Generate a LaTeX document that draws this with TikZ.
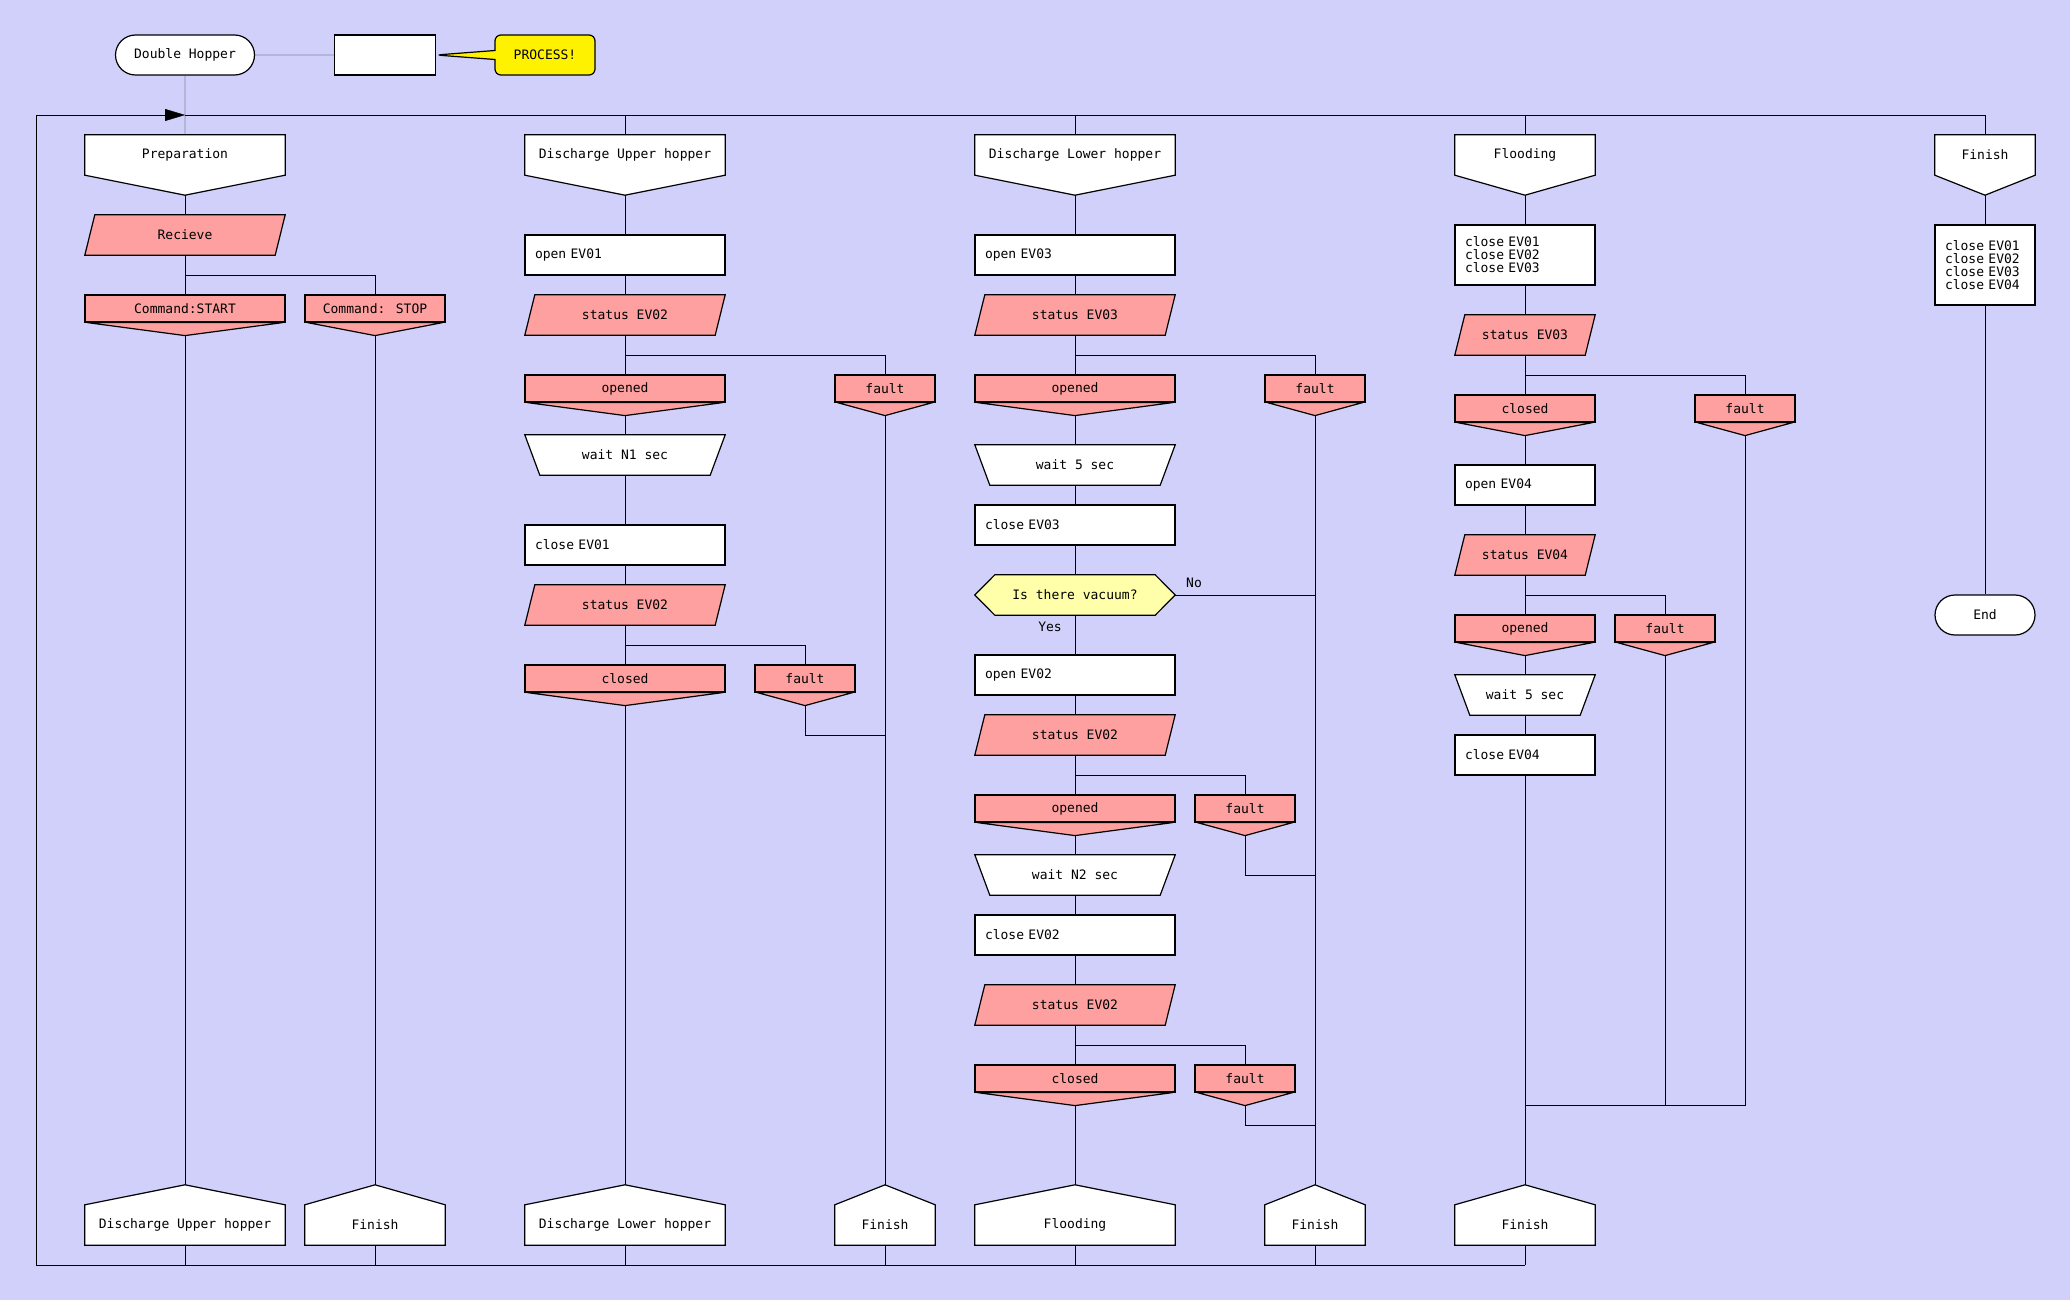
\documentclass[tikz,border=0pt]{standalone}
\usepackage{fontspec}
\newfontfamily\drakonfont{DejaVu Sans Mono}
\usetikzlibrary{arrows.meta,backgrounds,shapes.misc,shapes.callouts}
\definecolor{paper}{RGB}{208,208,250}
\definecolor{rose}{RGB}{255,160,160}
\definecolor{lemon}{RGB}{255,255,170}
\tikzset{
  skin/.style={fill=#1, draw=black, line width=1.2pt, miter limit=2},
  txt/.style={font=\drakonfont\fontsize{13}{13}\selectfont, inner sep=0pt},
  headline/.style={txt, minimum width=#1, minimum height=40pt,
    append after command={\pgfextra{\filldraw[skin=white]
      (\tikzlastnode.north west) -- (\tikzlastnode.north east) -- (\tikzlastnode.south east)
      -- ([yshift=-20pt]\tikzlastnode.south) -- (\tikzlastnode.south west) -- cycle;}}},
  address/.style={txt, minimum width=#1, minimum height=40pt,
    append after command={\pgfextra{\filldraw[skin=white]
      (\tikzlastnode.south west) -- (\tikzlastnode.south east) -- (\tikzlastnode.north east)
      -- ([yshift=20pt]\tikzlastnode.north) -- (\tikzlastnode.north west) -- cycle;}}},
  case/.style={txt, skin=rose, minimum width=#1, minimum height=27pt,
    append after command={\pgfextra{\filldraw[skin=rose]
      ([xshift=3pt]\tikzlastnode.south west) -- ([yshift=-13pt]\tikzlastnode.south)
      -- ([xshift=-3pt]\tikzlastnode.south east) -- cycle;}}},
  action/.style={txt, skin=white, text width=#1, minimum width=#1+20pt, minimum height=40pt, align=left},
  inout/.style={txt, minimum width=#1, minimum height=40pt,
    append after command={\pgfextra{\filldraw[skin=rose]
      ([xshift=10pt]\tikzlastnode.north west) -- (\tikzlastnode.north east)
      -- ([xshift=-10pt]\tikzlastnode.south east) -- (\tikzlastnode.south west) -- cycle;}}},
  pause/.style={txt, minimum width=#1, minimum height=40pt,
    append after command={\pgfextra{\filldraw[skin=white]
      (\tikzlastnode.north west) -- (\tikzlastnode.north east)
      -- ([xshift=-15pt]\tikzlastnode.south east) -- ([xshift=15pt]\tikzlastnode.south west) -- cycle;}}},
  query/.style={txt, minimum width=#1, minimum height=40pt,
    append after command={\pgfextra{\filldraw[skin=lemon]
      (\tikzlastnode.west) -- ([xshift=20pt]\tikzlastnode.north west) -- ([xshift=-20pt]\tikzlastnode.north east)
      -- (\tikzlastnode.east) -- ([xshift=-20pt]\tikzlastnode.south east) -- ([xshift=20pt]\tikzlastnode.south west) -- cycle;}}},
  terminal/.style={txt, skin=white, rounded rectangle, minimum width=#1, minimum height=40pt},
  link/.style={line width=1pt},
}
\begin{document}
\begin{tikzpicture}[x=1pt,y=-1pt]
\begin{scope}[on background layer]
\fill[paper] (0,0) rectangle (2070,1300);
\end{scope}
\useasboundingbox (0,0) rectangle (2070,1300);
\node[terminal=139pt] (title) at (185,55) {Double Hopper};
\node[txt, skin=white, minimum width=101pt, minimum height=40pt] (icon) at (385,55) {};
\node[txt, rectangle callout, fill=yellow, draw=black, line width=1.2pt, rounded corners=6pt,
      minimum width=100pt, minimum height=40pt, callout pointer width=9pt,
      callout absolute pointer={(icon.east)}] (shout) at (545,55) {PROCESS!};
\coordinate (topL) at (36,115);
\coordinate (entry) at (185,115);
\coordinate (topR) at (1985,115);
\coordinate (botL) at (36,1265);
\coordinate (botR) at (1525,1265);
% Preparation
\node[headline=200pt] (prep) at (185,155) {Preparation};
\node[inout=200pt] (recv) at (185,235) {Recieve};
\coordinate (brA) at (185,275);
\node[case=200pt] (cstart) at (185,308.5) {Command:START};
\node[case=140pt] (cstop) at (375,308.5) {Command: STOP};
\node[address=200pt] (adr1) at (185,1225) {Discharge Upper hopper};
\node[address=140pt] (adr2) at (375,1225) {Finish};
% Discharge Upper hopper
\node[headline=200pt] (dup) at (625,155) {Discharge Upper hopper};
\node[action=180pt] (op1) at (625,255) {open EV01};
\node[inout=200pt] (st1) at (625,315) {status EV02};
\coordinate (brB) at (625,355);
\node[case=200pt] (opd1) at (625,388.5) {opened};
\node[case=100pt] (flt1) at (885,388.5) {fault};
\node[pause=200pt] (wt1) at (625,455) {wait N1 sec};
\node[action=180pt] (cl1) at (625,545) {close EV01};
\node[inout=200pt] (st2) at (625,605) {status EV02};
\coordinate (brC) at (625,645);
\node[case=200pt] (cls1) at (625,678.5) {closed};
\node[case=100pt] (flt2) at (805,678.5) {fault};
\coordinate (jnB) at (885,735);
\node[address=200pt] (adr3) at (625,1225) {Discharge Lower hopper};
\node[address=100pt] (adr4) at (885,1225) {Finish};
% Discharge Lower hopper
\node[headline=200pt] (dlo) at (1075,155) {Discharge Lower hopper};
\node[action=180pt] (op3) at (1075,255) {open EV03};
\node[inout=200pt] (st3) at (1075,315) {status EV03};
\coordinate (brD) at (1075,355);
\node[case=200pt] (opd3) at (1075,388.5) {opened};
\node[case=100pt] (flt3) at (1315,388.5) {fault};
\node[pause=200pt] (wt3) at (1075,465) {wait 5 sec};
\node[action=180pt] (cl3) at (1075,525) {close EV03};
\node[query=200pt] (vac) at (1075,595) {Is there vacuum?};
\node[txt] (no) at (1194,583) {No};
\node[txt] (yes) at (1050,627) {Yes};
\coordinate (jnNo) at (1315,595);
\node[action=180pt] (op2) at (1075,675) {open EV02};
\node[inout=200pt] (st4) at (1075,735) {status EV02};
\coordinate (brE) at (1075,775);
\node[case=200pt] (opd4) at (1075,808.5) {opened};
\node[case=100pt] (flt4) at (1245,808.5) {fault};
\coordinate (jnE) at (1315,875);
\node[pause=200pt] (wt4) at (1075,875) {wait N2 sec};
\node[action=180pt] (cl4) at (1075,935) {close EV02};
\node[inout=200pt] (st5) at (1075,1005) {status EV02};
\coordinate (brF) at (1075,1045);
\node[case=200pt] (cls5) at (1075,1078.5) {closed};
\node[case=100pt] (flt5) at (1245,1078.5) {fault};
\coordinate (jnF) at (1315,1125);
\node[address=200pt] (adr5) at (1075,1225) {Flooding};
\node[address=100pt] (adr6) at (1315,1225) {Finish};
% Flooding
\node[headline=140pt] (fld) at (1525,155) {Flooding};
\node[action=120pt, minimum height=60pt] (cl6) at (1525,255) {close EV01\\close EV02\\close EV03};
\node[inout=140pt] (st6) at (1525,335) {status EV03};
\coordinate (brG) at (1525,375);
\node[case=140pt] (cls6) at (1525,408.5) {closed};
\node[case=100pt] (flt6) at (1745,408.5) {fault};
\node[action=120pt] (op6) at (1525,485) {open EV04};
\node[inout=140pt] (st7) at (1525,555) {status EV04};
\coordinate (brH) at (1525,595);
\node[case=140pt] (opd7) at (1525,628.5) {opened};
\node[case=100pt] (flt7) at (1665,628.5) {fault};
\node[pause=140pt] (wt7) at (1525,695) {wait 5 sec};
\node[action=120pt] (cl7) at (1525,755) {close EV04};
\coordinate (jnG) at (1525,1105);
\node[address=140pt] (adr7) at (1525,1225) {Finish};
% Finish
\node[headline=100pt] (fin) at (1985,155) {Finish};
\node[action=80pt, minimum height=80pt] (cl8) at (1985,265) {close EV01\\close EV02\\close EV03\\close EV04};
\node[terminal=100pt] (endn) at (1985,615) {End};
\begin{scope}[on background layer, link]
\draw (title) -- (icon);
\draw (title) -- (prep);
\draw[-{Triangle[length=20pt,width=12pt]}] (botL) -- (topL) -- (entry);
\draw (entry) -- (topR) -- (fin);
\foreach \n in {dup,dlo,fld} \draw (\n |- entry) -- (\n);
\draw (botL) -- (botR);
\foreach \n in {adr1,adr2,adr3,adr4,adr5,adr6,adr7} \draw (\n) -- (\n |- botL);
\draw (prep) -- (recv) -- (cstart) -- (adr1);
\draw (brA) -| (cstop);
\draw (cstop) -- (adr2);
\draw (dup) -- (op1) -- (st1) -- (opd1) -- (wt1) -- (cl1) -- (st2) -- (cls1) -- (adr3);
\draw (brB) -| (flt1);
\draw (flt1) -- (adr4);
\draw (brC) -| (flt2);
\draw (flt2) |- (jnB);
\draw (dlo) -- (op3) -- (st3) -- (opd3) -- (wt3) -- (cl3) -- (vac) -- (op2) -- (st4) -- (opd4)
      -- (wt4) -- (cl4) -- (st5) -- (cls5) -- (adr5);
\draw (brD) -| (flt3);
\draw (flt3) -- (adr6);
\draw (vac) -- (jnNo);
\draw (brE) -| (flt4);
\draw (flt4) |- (jnE);
\draw (brF) -| (flt5);
\draw (flt5) |- (jnF);
\draw (fld) -- (cl6) -- (st6) -- (cls6) -- (op6) -- (st7) -- (opd7) -- (wt7) -- (cl7) -- (adr7);
\draw (brG) -| (flt6);
\draw (flt6) |- (jnG);
\draw (brH) -| (flt7);
\draw (flt7) -- (flt7 |- jnG);
\draw (fin) -- (cl8) -- (endn);
\end{scope}
\end{tikzpicture}
\end{document}
